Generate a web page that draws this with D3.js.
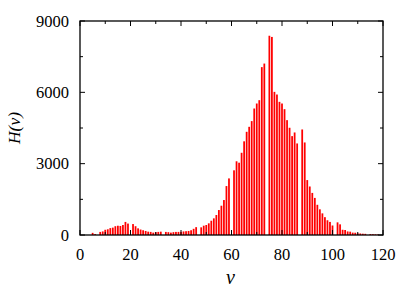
<!DOCTYPE html>
<html>
<head>
<meta charset="utf-8">
<script src="https://cdn.jsdelivr.net/npm/d3@7"></script>
<style>
  body { margin: 0; background: #fff; }
</style>
</head>
<body>
<script>
// histogram H(v), one bar per integer v (0 = empty bin)
const vStart = 4;
const counts = [
  0, 90, 40, 0, 130, 150, 220, 240, 290, 310,        // v 4-13
  370, 390, 380, 420, 550, 480, 0, 460, 370, 280,    // v 14-23
  230, 200, 170, 140, 130, 100, 120, 130, 140, 0,    // v 24-33
  130, 120, 100, 120, 130, 130, 130, 150, 160, 170,  // v 34-43
  200, 260, 330, 0, 322, 392, 420, 490, 600, 700,    // v 44-53
  840, 1050, 1232, 1470, 2058, 2380, 0, 2720, 3100, 3040, // v 54-63
  3458, 3940, 4340, 4550, 4790, 5320, 5530, 5670, 7060, 7210, // v 64-73
  0, 8380, 8330, 6020, 5908, 5600, 5530, 5292, 4830, 4510, // v 74-83
  4158, 4312, 3850, 0, 4438, 3892, 2310, 2040, 1770, 1560, // v 84-93
  1270, 1080, 910, 750, 620, 550, 400, 0, 532, 448,  // v 94-103
  220, 210, 150, 140, 100, 95, 70, 65, 55, 50,       // v 104-113
  0, 40, 35, 28, 22                                   // v 114-118
];
const xTicks = [0, 20, 40, 60, 80, 100, 120];
const yTicks = [0, 3000, 6000, 9000];
const xLabel = "v";
const yLabel = "H(v)";

const data = counts.map((c, i) => ({ v: vStart + i, h: c }));

const width = 415, height = 291;
const margin = { left: 80, right: 32, top: 21, bottom: 56 };
const serif = "'Liberation Serif', 'Times New Roman', 'DejaVu Serif', serif";

const svg = d3.select("body").append("svg")
  .attr("width", width)
  .attr("height", height)
  .attr("font-family", serif);

const x = d3.scaleLinear().domain([0, 120]).range([margin.left, width - margin.right]);
const y = d3.scaleLinear().domain([0, 9000]).range([height - margin.bottom, margin.top]);

const barW = (x(1) - x(0)) * 0.7;

// bars
svg.append("g")
  .selectAll("rect")
  .data(data.filter(d => d.h > 0))
  .join("rect")
    .attr("x", d => x(d.v) - barW / 2)
    .attr("y", d => y(d.h))
    .attr("width", barW)
    .attr("height", d => y(0) - y(d.h))
    .attr("fill", "#ff0000");

// axes, ticks mirrored on all four sides like gnuplot
const minorX = d3.range(0, 121, 10);
const minorY = d3.range(0, 9001, 1500);
const tickG = svg.append("g").attr("stroke", "#000").attr("stroke-width", 1);

minorX.forEach(t => {
  const len = t % 20 === 0 ? 5 : 3;
  tickG.append("line").attr("x1", x(t)).attr("x2", x(t)).attr("y1", y(0)).attr("y2", y(0) - len);
  tickG.append("line").attr("x1", x(t)).attr("x2", x(t)).attr("y1", y(9000)).attr("y2", y(9000) + len);
});
minorY.forEach(t => {
  const len = t % 3000 === 0 ? 5 : 3;
  tickG.append("line").attr("x1", x(0)).attr("x2", x(0) + len).attr("y1", y(t)).attr("y2", y(t));
  tickG.append("line").attr("x1", x(120)).attr("x2", x(120) - len).attr("y1", y(t)).attr("y2", y(t));
});

svg.append("rect")
  .attr("x", x(0)).attr("y", y(9000))
  .attr("width", x(120) - x(0)).attr("height", y(0) - y(9000))
  .attr("fill", "none").attr("stroke", "#000").attr("stroke-width", 1.3);

// tick labels
svg.append("g").selectAll("text")
  .data(xTicks)
  .join("text")
    .attr("x", d => x(d))
    .attr("y", y(0) + 25)
    .attr("text-anchor", "middle")
    .attr("font-size", 16.5)
    .text(d => d);

svg.append("g").selectAll("text")
  .data(yTicks)
  .join("text")
    .attr("x", x(0) - 11)
    .attr("y", d => y(d) + 5.5)
    .attr("text-anchor", "end")
    .attr("font-size", 16.5)
    .text(d => d);

// axis titles
svg.append("text")
  .attr("x", x(60) - 1)
  .attr("y", 284)
  .attr("text-anchor", "middle")
  .attr("font-size", 20)
  .attr("font-style", "italic")
  .text(xLabel);

svg.append("text")
  .attr("transform", "translate(20," + y(4500) + ") rotate(-90)")
  .attr("text-anchor", "middle")
  .attr("font-size", 17.5)
  .attr("font-style", "italic")
  .text(yLabel);
</script>
</body>
</html>
